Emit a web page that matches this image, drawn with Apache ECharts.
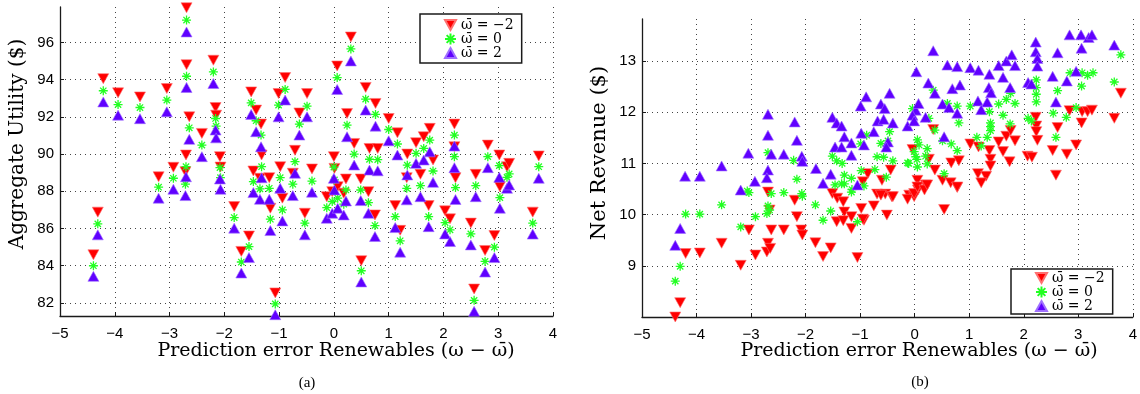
<!DOCTYPE html>
<html>
<head>
<meta charset="utf-8">
<script src="https://cdn.jsdelivr.net/npm/echarts@6/dist/echarts.min.js"></script>
<style>
html,body{margin:0;padding:0;background:#fff;}
#chart{width:1140px;height:394px;}
</style>
</head>
<body>
<div id="chart"></div>
<script>
// ---------- tick labels ----------
const xTicks = [-5, -4, -3, -2, -1, 0, 1, 2, 3, 4];
const yTicksLeft = [82, 84, 86, 88, 90, 92, 94, 96];
const yTicksRight = [9, 10, 11, 12, 13];

// ---------- legend / series names ----------
const seriesNames = ['\u03c9\u0304 = \u22122', '\u03c9\u0304 = 0', '\u03c9\u0304 = 2'];

// ---------- panel (a): Aggregate Utility ----------
const leftX = [-4.39,-4.31,-4.21,-3.94,-3.54,-3.05,-3.2,-2.93,-2.69,-2.69,-2.64,-2.7,-2.71,-2.41,-2.2,-2.16,-2.15,-2.08,-2.07,-1.82,-1.69,-1.55,-1.51,-1.42,-1.33,-1.32,-1.47,-1.35,-1.18,-1.16,-1.07,-1.01,-0.89,-0.98,-0.94,-0.75,-0.71,-0.63,-0.49,-0.53,-0.4,-0.13,-0.03,0.01,0.07,0.18,0.06,0.0,0.22,0.24,0.31,0.37,0.49,0.5,0.58,0.63,0.65,0.76,0.75,0.8,1.0,1.12,1.16,1.21,1.33,1.34,1.5,1.58,1.64,1.73,1.75,1.81,2.03,2.12,2.2,2.2,2.22,2.5,2.56,2.59,2.76,2.81,2.93,3.03,3.02,3.16,3.2,3.63,3.74];
const leftRed = [84.59,86.88,94.05,93.29,93.07,93.52,88.78,89.29,97.86,94.8,92.0,89.95,89.05,91.11,95.04,92.5,92.09,89.86,89.3,87.18,84.77,85.6,93.34,92.36,91.61,89.95,89.09,88.7,88.73,87.09,82.54,93.25,94.11,89.32,87.63,88.97,90.2,92.21,93.25,86.82,89.2,87.71,87.98,89.23,88.25,87.89,94.73,89.86,88.66,92.18,96.29,90.57,88.66,84.27,93.58,87.98,90.3,92.72,86.73,90.3,91.91,87.23,91.14,85.9,88.73,90.0,90.61,88.91,90.93,87.23,91.38,89.68,86.95,86.52,91.61,90.39,88.73,86.29,82.75,88.91,84.82,90.48,85.62,88.25,89.95,89.32,89.5,86.88,89.9];
const leftGreen = [84.0,86.25,93.4,92.66,92.5,92.9,88.22,88.7,97.2,94.18,91.41,89.32,88.38,90.48,94.41,91.91,91.5,89.27,88.73,86.59,84.2,85.03,92.75,91.79,91.02,89.32,88.52,88.13,88.16,86.5,81.95,92.63,93.47,88.73,87.0,88.38,89.59,91.61,92.57,86.29,88.55,87.12,87.45,88.61,87.63,87.31,94.11,89.3,88.07,91.55,95.65,90.0,88.07,83.73,92.95,87.39,89.72,92.13,86.16,89.7,91.32,86.64,90.54,85.34,88.16,89.4,90.04,88.3,90.3,86.64,90.75,89.09,86.32,85.93,91.02,89.86,88.2,85.71,82.14,88.3,84.23,89.86,85.0,87.66,89.38,88.75,88.93,86.29,89.32];
const leftBlue = [83.43,85.66,92.8,92.09,91.9,92.27,87.63,88.11,96.56,93.58,90.79,88.78,87.77,89.86,93.79,91.29,90.87,88.66,88.11,86.02,83.61,84.44,92.13,91.2,90.39,88.73,87.93,87.57,87.57,85.89,81.37,92.0,92.9,88.16,86.41,87.77,88.97,91.02,92.0,85.66,87.95,86.55,86.82,88.07,87.09,86.73,93.47,88.7,87.48,90.93,95.0,89.41,87.5,83.13,92.36,86.82,89.14,91.5,85.57,89.1,90.71,86.05,89.95,84.73,87.54,88.88,89.5,87.71,89.68,86.1,90.12,88.48,85.71,85.3,90.43,89.27,87.56,85.12,81.55,87.71,83.66,89.27,84.44,87.09,88.75,88.16,88.34,85.7,88.7];

// ---------- panel (b): Net Revenue ----------
const rightRedX = [-4.39,-4.3,-4.2,-3.94,-3.54,-3.19,-3.04,-2.92,-2.71,-2.69,-2.65,-2.63,-2.69,-2.66,-2.4,-2.2,-2.16,-2.08,-2.06,-1.82,-1.68,-1.54,-1.51,-1.42,-1.31,-1.29,-1.43,-1.31,-1.16,-1.16,-1.05,-0.98,-0.93,-0.86,-0.95,-0.6,-0.44,-0.69,-0.54,-0.42,-0.04,0.34,0.26,0.37,0.05,0.2,0.06,-0.1,-0.01,0.67,0.81,0.51,0.66,0.78,1.02,1.17,1.37,1.39,1.39,1.16,1.31,1.22,1.54,1.62,1.68,1.76,1.84,1.74,2.07,2.15,2.22,2.23,2.23,2.25,2.62,2.53,2.59,2.79,2.84,2.96,3.06,3.07,3.17,3.25,3.66,3.78,-0.75,-0.62,-0.51,-0.4,-0.13,-0.01,0.05,0.18,0.23,0.54,0.78,-0.95];
const rightRedY = [8.0,8.28,9.24,9.25,9.44,9.01,9.7,9.21,9.27,9.44,9.34,9.7,10.44,10.09,9.7,10.28,9.96,9.7,9.6,9.45,9.18,9.35,10.41,10.32,10.25,10.05,9.86,9.88,9.96,9.73,9.16,10.12,9.89,10.8,10.64,10.67,10.87,10.4,10.4,10.35,11.27,11.66,11.08,10.87,10.67,10.58,10.48,10.38,10.35,11.01,11.05,10.67,10.62,10.53,11.38,11.32,11.25,11.08,10.95,10.8,10.75,10.62,11.42,11.23,11.53,11.64,11.44,11.03,11.14,11.12,11.9,11.73,11.62,11.45,11.7,11.25,10.77,11.18,12.03,11.36,11.79,12.01,12.01,12.04,11.88,12.37,10.17,10.38,9.99,10.35,10.3,10.41,10.54,10.48,10.58,10.1,10.54,9.91];
const rightGreenX = [-4.39,-4.3,-4.2,-3.94,-3.54,-3.19,-3.04,-2.92,-2.71,-2.69,-2.66,-2.63,-2.4,-2.07,-2.06,-1.82,-1.68,-1.54,-1.46,-1.34,-1.16,-1.05,-0.93,-3.07,-2.69,-2.22,-2.16,-1.51,-1.43,-1.33,-1.29,-1.29,-1.16,-0.99,-0.98,-0.88,-0.46,-0.62,-0.49,-0.69,-0.57,-0.4,-0.73,-0.52,-1.15,-0.04,0.05,0.08,-0.01,-0.13,0.04,0.23,0.2,0.34,0.37,0.26,0.6,0.78,0.51,0.67,0.81,0.78,0.54,1.02,1.14,1.22,1.33,1.37,1.39,1.39,1.39,1.54,1.62,1.68,1.75,1.76,1.84,2.08,2.14,2.23,2.23,2.23,2.23,2.54,2.59,2.62,2.78,2.85,2.96,3.06,3.07,3.17,3.27,3.66,3.78,-0.11,0.05,0.23,0.02];
const rightGreenY = [8.7,8.99,10.01,10.01,10.19,9.76,10.43,9.96,10.02,10.17,10.09,10.41,10.43,10.41,10.36,10.19,9.89,10.07,10.58,10.6,10.44,9.86,10.56,10.46,11.21,11.06,10.69,11.14,11.05,11.0,10.77,10.6,10.71,11.38,10.86,11.55,11.62,11.39,11.44,11.13,11.12,11.05,10.88,10.73,10.49,12.07,11.46,11.36,11.23,11.01,11.08,11.29,11.14,12.43,11.65,11.88,12.17,12.12,11.44,11.38,11.79,11.25,10.8,12.12,11.51,11.34,11.51,12.01,11.79,11.72,11.64,12.16,11.94,12.25,11.77,12.37,12.17,11.88,11.83,12.63,12.48,12.35,12.2,11.98,11.51,12.42,11.9,12.77,12.09,12.51,12.77,12.72,12.77,12.59,13.12,11.0,10.93,10.99,11.13];
const rightBlueX = [-4.21,-3.94,-3.54,-3.05,-3.19,-2.93,-2.69,-2.69,-2.63,-2.69,-2.71,-2.4,-2.2,-2.16,-2.07,-2.06,-1.81,-1.68,-1.54,-1.51,-1.43,-1.34,-1.46,-1.34,-1.29,-1.16,-1.16,-1.05,-0.99,-0.98,-0.93,-0.89,-0.46,-0.62,-0.55,-0.68,-0.57,-0.4,-0.75,-0.49,-0.52,0.03,0.02,0.07,-0.04,-0.13,-0.01,0.2,0.25,0.37,0.34,0.6,0.78,0.51,0.63,0.69,0.83,0.78,0.54,1.02,1.17,1.37,1.36,1.4,1.16,1.33,1.22,1.54,1.62,1.68,1.78,1.84,1.75,2.08,2.14,2.22,2.22,2.25,2.25,2.62,2.53,2.59,2.79,2.84,3.05,3.19,3.25,3.06,2.96,3.66,-4.3,-4.39];
const rightBlueY = [10.75,10.75,10.95,11.2,10.48,10.65,11.96,11.55,11.18,10.87,10.72,11.18,11.81,11.45,11.14,11.04,10.9,10.61,10.79,11.9,11.79,11.73,11.32,11.32,11.52,11.4,11.16,10.58,12.12,11.59,11.36,12.3,12.37,12.16,12.07,11.83,11.86,11.79,11.62,11.42,11.32,12.79,12.04,12.17,11.94,11.73,11.83,11.9,12.57,12.37,13.2,12.92,12.89,12.16,12.09,12.46,12.53,11.98,11.52,12.87,12.82,12.74,12.48,12.38,12.22,12.2,12.05,12.91,12.68,13.0,13.12,12.91,12.48,12.58,12.55,13.37,13.18,13.05,12.9,13.16,12.7,12.2,12.61,13.51,13.51,13.46,13.51,13.25,12.8,13.31,9.73,9.4];

// ---------- styling ----------
const RED = '#ff0000', GREEN = '#22ff22', BLUE = '#6000ff';
const DOWN_TRI = 'path://M0,0L10,0L5,9Z';
const UP_TRI = 'path://M5,0L10,9L0,9Z';
const STAR = 'path://M0,5L10,5M5,0L5,10M1.5,1.5L8.5,8.5M1.5,8.5L8.5,1.5';
const tickFont = 'Liberation Sans';
const titleFont = 'DejaVu Serif';

function zip(xs, ys) { return xs.map((x, i) => [x, ys[i]]); }
function minusFmt(v) { return String(v).replace('-', '\u2212'); }

function xAxisCfg(gi) {
  return {
    type: 'value', gridIndex: gi, min: -5, max: 4, interval: 1,
    axisLine: { show: true, onZero: false, lineStyle: { color: '#1a1a1a', width: 1.3 } },
    axisTick: { show: true, inside: true, length: 4, lineStyle: { color: '#1a1a1a' } },
    axisLabel: { show: true, color: '#000', fontFamily: tickFont, fontSize: 15, margin: 10, formatter: minusFmt, showMinLabel: true, showMaxLabel: true },
    splitLine: { show: true, lineStyle: { color: '#444', type: [1, 4], width: 1 } }
  };
}
function yAxisCfg(gi, min, max, ticks) {
  return {
    type: 'value', gridIndex: gi, min: min, max: max,
    axisLine: { show: true, onZero: false, lineStyle: { color: '#1a1a1a', width: 1.3 } },
    axisTick: { show: true, inside: true, length: 4, customValues: ticks, lineStyle: { color: '#1a1a1a' } },
    axisLabel: { show: true, color: '#000', fontFamily: tickFont, fontSize: 15, margin: 6, customValues: ticks },
    splitLine: { show: true, lineStyle: { color: '#444', type: [1, 4], width: 1 } }
  };
}
function scat(name, gi, data, kind) {
  const s = {
    name: name, type: 'scatter', xAxisIndex: gi, yAxisIndex: gi, data: data,
    animation: false, clip: false, emphasis: { disabled: true }
  };
  if (kind === 'red') {
    s.symbol = DOWN_TRI; s.symbolSize = [11, 10];
    s.itemStyle = { color: RED, borderColor: '#ff7070', borderWidth: 0.6, opacity: 1 };
  } else if (kind === 'green') {
    s.symbol = STAR; s.symbolSize = [9, 9];
    s.itemStyle = { color: 'rgba(0,0,0,0)', borderColor: GREEN, borderWidth: 1.3, opacity: 1 };
  } else {
    s.symbol = UP_TRI; s.symbolSize = [11, 10];
    s.itemStyle = { color: BLUE, borderColor: '#a070ff', borderWidth: 0.6, opacity: 1 };
  }
  return s;
}
function legendCfg(left, top, padTop, padBottom) {
  return {
    left: left, top: top, orient: 'vertical', itemGap: 0, itemWidth: 11, itemHeight: 11,
    padding: [padTop, 8, padBottom, 24], borderColor: '#1a1a1a', borderWidth: 1.5, backgroundColor: '#fff',
    selectedMode: false, data: seriesNames,
    textStyle: { fontFamily: titleFont, fontSize: 14, color: '#000', lineHeight: 12 }
  };
}

const chart = echarts.init(document.getElementById('chart'), null, { renderer: 'canvas' });
chart.setOption({
  backgroundColor: '#fff',
  animation: false,
  grid: [
    { left: 60, top: 7, width: 493, height: 309, containLabel: false },
    { left: 642, top: 19, width: 495, height: 298, containLabel: false }
  ],
  xAxis: [xAxisCfg(0), xAxisCfg(1)],
  yAxis: [yAxisCfg(0, 81.3, 97.9, yTicksLeft), yAxisCfg(1, 8, 13.82, yTicksRight)],
  legend: [legendCfg(420, 14, 4, 3), legendCfg(1011, 269, 2, 1)],
  series: [
    scat(seriesNames[0], 0, zip(leftX, leftRed), 'red'),
    scat(seriesNames[1], 0, zip(leftX, leftGreen), 'green'),
    scat(seriesNames[2], 0, zip(leftX, leftBlue), 'blue'),
    scat(seriesNames[0], 1, zip(rightRedX, rightRedY), 'red'),
    scat(seriesNames[1], 1, zip(rightGreenX, rightGreenY), 'green'),
    scat(seriesNames[2], 1, zip(rightBlueX, rightBlueY), 'blue')
  ],
  graphic: [
    { type: 'text', x: 336, y: 351, style: { text: 'Prediction error Renewables (\u03c9 \u2212 \u03c9\u0304)', font: '19px "DejaVu Serif"', fill: '#000', align: 'center', verticalAlign: 'middle' } },
    { type: 'text', x: 919, y: 351, style: { text: 'Prediction error Renewables (\u03c9 \u2212 \u03c9\u0304)', font: '19px "DejaVu Serif"', fill: '#000', align: 'center', verticalAlign: 'middle' } },
    { type: 'text', x: 18, y: 144, rotation: Math.PI / 2, style: { text: 'Aggregate Utility ($)', font: '20px "DejaVu Serif"', fill: '#000', align: 'center', verticalAlign: 'middle' } },
    { type: 'text', x: 600, y: 153, rotation: Math.PI / 2, style: { text: 'Net Revenue ($)', font: '21px "DejaVu Serif"', fill: '#000', align: 'center', verticalAlign: 'middle' } },
    { type: 'text', x: 307, y: 383, style: { text: '(a)', font: '15px "Liberation Serif"', fill: '#000', align: 'center', verticalAlign: 'middle' } },
    { type: 'text', x: 920, y: 382, style: { text: '(b)', font: '15px "Liberation Serif"', fill: '#000', align: 'center', verticalAlign: 'middle' } }
  ]
});
</script>
</body>
</html>
